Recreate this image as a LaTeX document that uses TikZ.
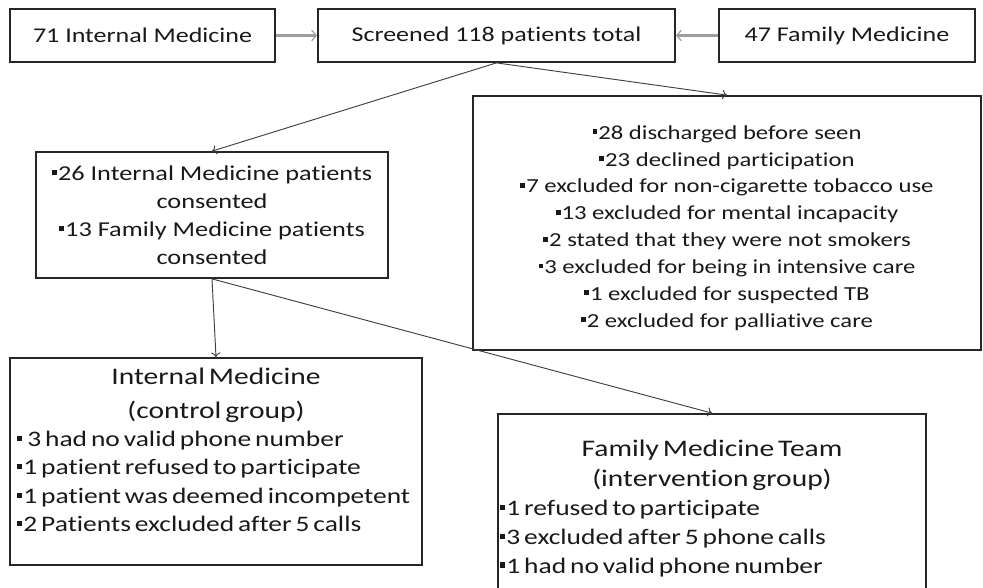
\documentclass[tikz,border=0pt]{standalone}
\usepackage{fontspec}
\setmainfont{Carlito}[FakeStretch=1.24,Ligatures={NoCommon}]
\usetikzlibrary{arrows.meta}
\newcommand{\sqbul}{\raisebox{0.25em}{\rule{0.24em}{0.24em}}\hspace{0.05em}}

\begin{document}
\begin{tikzpicture}[x=0.03cm,y=-0.03cm]
\tikzstyle{box}=[draw=black!85,line width=1.5pt,text=black!90,inner sep=0pt]
\tikzstyle{flow}=[draw=black!75,line width=0.8pt,-{To[length=4pt,width=8pt]}]
\tikzstyle{feed}=[draw=black!38,line width=2pt,-{Straight Barb[length=4pt,width=9pt,line width=1pt]}]
\tikzstyle{head}=[font=\fontsize{17.9}{21}\selectfont]

\useasboundingbox (0,0) rectangle (983,587);
\clip (0,0) rectangle (983,587);

% top row
\node[box,head,minimum width=7.95cm,minimum height=1.59cm] (im71) at (142.5,35.5) {71 Internal Medicine};
\node[box,head,minimum width=10.71cm,minimum height=1.59cm] (scr) at (496.5,35.5) {Screened 118 patients total};
\node[box,head,minimum width=7.68cm,minimum height=1.59cm] (fm47) at (847,35.5) {47 Family Medicine};

\node[box,minimum width=10.56cm,minimum height=3.78cm,align=center,
  font=\fontsize{18.1}{23.9}\selectfont] (cons) at (212,215)
  {\sqbul 26 Internal Medicine patients\\consented\\\sqbul 13 Family Medicine patients\\consented};

\node[box,minimum width=15.24cm,minimum height=7.62cm,align=center,
  font=\fontsize{17}{22.9}\selectfont] (excl) at (727,223)
  {\rule{0pt}{20pt}\sqbul 28 discharged before seen\\
   \sqbul 23 declined participation\\
   \sqbul 7 excluded for non-cigarette tobacco use\\
   \sqbul 13 excluded for mental incapacity\\
   \sqbul 2 stated that they were not smokers\\
   \sqbul 3 excluded for being in intensive care\\
   \sqbul 1 excluded for suspected TB\\
   \sqbul 2 excluded for palliative care};

% the two groups
\node[box,minimum width=12.36cm,minimum height=6.21cm] (im) at (216,461.5) {};
\node[anchor=north,text=black!90,text width=11.94cm,align=left,inner sep=0pt] (imtext) at ([yshift=-9.5pt]im.north)
  {{\fontsize{20.3}{28.2}\selectfont\centering Internal Medicine\\(control group)\par}
   {\fontsize{18.9}{24.3}\selectfont
   \sqbul\ 3 had no valid phone number\\
   \sqbul 1 patient refused to participate\\
   \sqbul 1 patient was deemed incompetent\\
   \sqbul 2 Patients excluded after 5 calls\par}};

\node[box,minimum width=12.84cm,minimum height=6.18cm] (fm) at (712,517) {};
\node[anchor=north,text=black!90,text width=12.72cm,align=left,inner sep=0pt] (fmtext) at ([yshift=-23pt]fm.north)
  {{\fontsize{20.3}{25.6}\selectfont\centering Family Medicine Team\\(intervention group)\par}
   {\fontsize{18.9}{24.6}\selectfont
   \sqbul 1 refused to participate\\
   \sqbul 3 excluded after 5 phone calls\\
   \sqbul 1 had no valid phone number\par}};

\draw[feed] (im71) -- (scr);
\draw[feed] (fm47) -- (scr);
\draw[flow] (scr.south) -- (cons.north);
\draw[flow] (scr.south) -- (excl.north);
\draw[flow] (cons.south) -- (im.north);
\draw[flow] (cons.south) -- (fm.north);
\end{tikzpicture}
\end{document}
